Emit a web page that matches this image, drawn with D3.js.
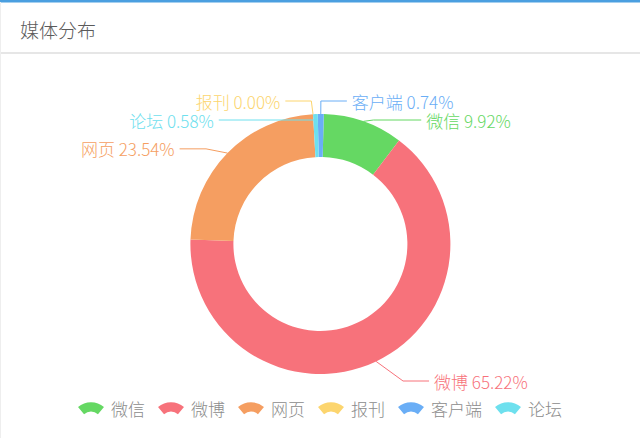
<!DOCTYPE html>
<html lang="zh">
<head>
<meta charset="UTF-8">
<title>媒体分布</title>
<script src="https://d3js.org/d3.v7.min.js"></script>
<style>
  html, body { margin: 0; padding: 0; background: #fff; }
  body { font-family: "Noto Sans CJK SC", "Noto Sans", sans-serif; }
  .title { fill: #5a5a5a; font-size: 19px; font-weight: 300; }
  .label { font-size: 17px; font-weight: 300; dominant-baseline: central; }
  .legend text { fill: #8c8c8c; font-size: 17px; font-weight: 300; dominant-baseline: central; }
</style>
</head>
<body>
<svg width="640" height="438"></svg>
<script>
// data
const categories = ["微信", "微博", "网页", "报刊", "客户端", "论坛"];
const shares = [9.92, 65.22, 23.54, 0.00, 0.74, 0.58];
const colors = ["#65d863", "#f7727b", "#f59e61", "#fcd56e", "#6aaef6", "#6ee0ee"];
// order of the slices round the ring (clockwise from the top)
const ringOrder = ["微信", "微博", "网页", "报刊", "论坛", "客户端"];

const W = 640, H = 438;
const svg = d3.select("svg");

// panel header
svg.append("rect").attr("x", 0).attr("y", 0).attr("width", W).attr("height", 2.5).attr("fill", "#4a9fe0");
svg.append("rect").attr("x", 0).attr("y", 52).attr("width", W).attr("height", 2).attr("fill", "#e6e6e6");
svg.append("rect").attr("x", 0).attr("y", 2).attr("width", 1).attr("height", H).attr("fill", "#eeeeee");
svg.append("text").attr("class", "title").attr("x", 20).attr("y", 29.5)
  .attr("dominant-baseline", "central").text("媒体分布");

// pie geometry
const cx = 320.4, cy = 244, R = 130, R0 = 87;
const L1 = 30, L2 = 26, GAP = 5, LH = 19;
const viewTop = 91.5, viewBottom = 390.5;
const rot = 1.5 * Math.PI / 180;

const data = categories.map((name, i) => ({ name, value: shares[i], i }));
const color = d3.scaleOrdinal().domain(categories).range(colors);

const pie = d3.pie()
  .value(d => d.value)
  .sort((a, b) => ringOrder.indexOf(a.name) - ringOrder.indexOf(b.name))
  .startAngle(rot).endAngle(rot + 2 * Math.PI);
const arcs = pie(data);
const arc = d3.arc().innerRadius(R0).outerRadius(R);

const g = svg.append("g").attr("transform", `translate(${cx},${cy})`);
g.selectAll("path.slice").data(arcs).enter().append("path")
  .attr("class", "slice")
  .attr("d", arc)
  .attr("fill", d => color(d.data.name));

// label layout: start on the ring, bend outside it, then a short run to the text
const labels = arcs.map(a => {
  const mid = (a.startAngle + a.endAngle) / 2;
  const s = Math.sin(mid), c = Math.cos(mid);
  return {
    a, i: a.data.i, dir: s >= 0 ? 1 : -1,
    x0: cx + R * s, y0: cy - R * c,
    x1: cx + (R + L1) * s, y: cy - (R + L1) * c
  };
});

function layoutSide(list) {
  if (!list.length) return;
  const rA = R + L1;
  list.sort((p, q) => Math.round(p.y) - Math.round(q.y) || p.i - q.i);
  const orig = list.map(d => d.y);
  const lift = Math.max(0, viewTop + LH / 2 - list[0].y);
  list.forEach(d => { d.y += lift; });
  for (let k = 1; k < list.length; k++) list[k].y = Math.max(list[k].y, list[k - 1].y + LH);
  const n = list.length;
  const last = list[n - 1];
  if (last.y > viewBottom - LH / 2) {
    last.y = viewBottom - LH / 2;
    const dy = Math.abs(last.y - cy);
    if (dy < rA) last.x1 = cx + last.dir * Math.sqrt(rA * rA - dy * dy);
  }
  for (let k = n - 2; k >= 0; k--) list[k].y = Math.min(list[k].y, list[k + 1].y - LH);
  const moved = list.some((d, k) => Math.abs(d.y - orig[k]) > 0.5);

  if (!moved) {
    list.forEach(d => { d.tx = d.x1 + (L2 + GAP) * d.dir; });
    return;
  }
  [d => d.y <= cy, d => d.y > cy].forEach(test => {
    const semi = list.filter(test);
    if (!semi.length) return;
    const far = semi.reduce((m, d) => Math.abs(d.y - cy) > Math.abs(m.y - cy) ? d : m);
    const fdx = Math.abs(far.x1 - cx) + GAP;
    const fdy = Math.abs(far.y - cy);
    const rB = fdx < rA ? Math.sqrt(fdy * fdy / (1 - fdx * fdx / (rA * rA))) : rA;
    semi.forEach(d => {
      const dy = Math.abs(d.y - cy);
      const dx = Math.sqrt(Math.max(0, 1 - dy * dy / (rB * rB))) * rA;
      d.tx = cx + (dx + L2) * d.dir;
    });
  });
}
layoutSide(labels.filter(d => d.dir > 0));
layoutSide(labels.filter(d => d.dir < 0));

const line = d3.line();
svg.append("g").selectAll("path").data(labels).enter().append("path")
  .attr("d", d => line([[d.x0, d.y0], [d.x1, d.y], [d.tx - GAP * d.dir, d.y]]))
  .attr("fill", "none")
  .attr("stroke", d => color(d.a.data.name))
  .attr("stroke-width", 1);

svg.append("g").selectAll("text").data(labels).enter().append("text")
  .attr("class", "label")
  .attr("x", d => d.tx)
  .attr("y", d => d.y)
  .attr("text-anchor", d => d.dir > 0 ? "start" : "end")
  .attr("fill", d => color(d.a.data.name))
  .text(d => `${d.a.data.name} ${d.a.data.value.toFixed(2)}%`);

// legend
const iconW = 26, iconGap = 7, itemGap = 13, legendY = 408;
const iconRo = 20.2, iconRi = 10.8, iconA = 40 * Math.PI / 180;
const icon = d3.arc().innerRadius(iconRi).outerRadius(iconRo).startAngle(-iconA).endAngle(iconA);
const legend = svg.append("g").attr("class", "legend");
const items = legend.selectAll("g").data(categories).enter().append("g");
items.append("path")
  .attr("d", icon)
  .attr("transform", `translate(0,${iconRo - 5.8})`)
  .attr("fill", d => color(d));
items.append("text")
  .attr("x", iconW / 2 + iconGap)
  .attr("y", 0)
  .text(d => d);

const widths = [];
items.each(function () {
  widths.push(iconW + iconGap + d3.select(this).select("text").node().getComputedTextLength());
});
const total = d3.sum(widths) + itemGap * (widths.length - 1);
let xPos = W / 2 - total / 2;
items.each(function (d, k) {
  d3.select(this).attr("transform", `translate(${xPos + iconW / 2},${legendY})`);
  xPos += widths[k] + itemGap;
});
</script>
</body>
</html>
